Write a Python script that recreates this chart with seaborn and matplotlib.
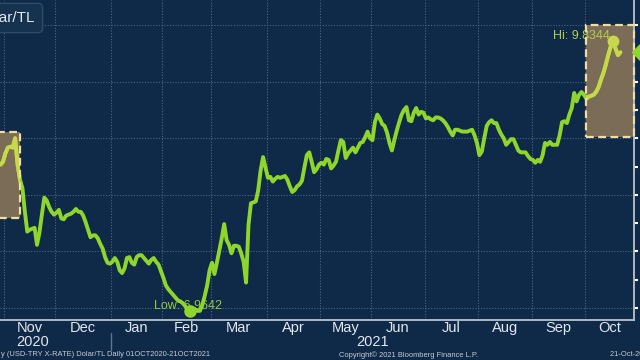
import numpy as np
import pandas as pd
import matplotlib
matplotlib.use("Agg")
import matplotlib.pyplot as plt
import seaborn as sns
from matplotlib.patches import Rectangle

# ---------------- data ----------------
series_start = "2020-10-01"      # first trading day of the series
last_date = "2021-10-21"         # last trading day of the series
# daily closes (trading days) from 2020-10-29 to 2021-10-21
values = [
    8.52, 8.55, 8.64, 8.70, 8.71, 8.70, 8.80, 8.52, 8.36, 8.27,
    8.02, 7.81, 7.83, 7.84, 7.85, 7.67, 7.80, 7.99, 8.17, 8.14,
    8.07, 8.02, 7.99, 8.01, 8.04, 7.95, 7.94, 7.98, 7.99, 8.00,
    8.02, 8.05, 8.02, 8.02, 7.98, 7.91, 7.83, 7.75, 7.77, 7.77,
    7.74, 7.68, 7.63, 7.54, 7.48, 7.47, 7.49, 7.53, 7.49, 7.40,
    7.37, 7.42, 7.53, 7.54, 7.48, 7.46, 7.54, 7.56, 7.56, 7.53,
    7.50, 7.47, 7.51, 7.53, 7.49, 7.46, 7.39, 7.32, 7.24, 7.20,
    7.17, 7.14, 7.11, 7.08, 7.07, 7.05, 7.02, 6.98, 6.9642, 7.00,
    6.98, 6.97, 6.97, 7.03, 7.13, 7.24, 7.40, 7.48, 7.36, 7.48,
    7.61, 7.74, 7.89, 7.72, 7.67, 7.58, 7.66, 7.66, 7.65, 7.58,
    7.49, 7.27, 7.88, 8.11, 8.12, 8.13, 8.25, 8.46, 8.60, 8.49,
    8.38, 8.39, 8.34, 8.37, 8.39, 8.38, 8.39, 8.40, 8.36, 8.29,
    8.23, 8.25, 8.29, 8.31, 8.35, 8.49, 8.62, 8.65, 8.55, 8.44,
    8.47, 8.52, 8.54, 8.52, 8.58, 8.57, 8.48, 8.51, 8.55, 8.67,
    8.78, 8.76, 8.59, 8.64, 8.67, 8.70, 8.65, 8.70, 8.75, 8.76,
    8.81, 8.87, 8.80, 8.78, 8.97, 9.05, 9.01, 8.95, 8.93, 8.86,
    8.75, 8.67, 8.78, 8.88, 8.97, 9.05, 9.10, 9.13, 8.99, 8.98,
    9.07, 9.12, 9.05, 9.08, 9.07, 9.01, 9.02, 9.00, 8.99, 9.02,
    9.02, 9.01, 8.99, 8.96, 8.92, 8.87, 8.83, 8.89, 8.89, 8.88,
    8.87, 8.87, 8.87, 8.88, 8.89, 8.83, 8.75, 8.62, 8.66, 8.80,
    8.93, 8.97, 8.99, 8.96, 8.96, 8.89, 8.84, 8.80, 8.73, 8.76,
    8.79, 8.79, 8.73, 8.67, 8.65, 8.65, 8.65, 8.61, 8.58, 8.57,
    8.54, 8.57, 8.55, 8.62, 8.75, 8.73, 8.76, 8.73, 8.73, 8.73,
    8.83, 8.97, 8.98, 8.96, 9.05, 9.12, 9.28, 9.19, 9.26, 9.29,
    9.26, 9.22, 9.24, 9.25, 9.26, 9.29, 9.34, 9.42, 9.49, 9.58,
    9.68, 9.77, 9.8344, 9.75, 9.68, 9.71,
]
month_labels = ["Nov", "Dec", "Jan", "Feb", "Mar", "Apr", "May", "Jun",
                "Jul", "Aug", "Sep", "Oct"]
month_starts = ["2020-11-01", "2020-12-01", "2021-01-01", "2021-02-01",
                "2021-03-01", "2021-04-01", "2021-05-01", "2021-06-01",
                "2021-07-01", "2021-08-01", "2021-09-01", "2021-10-01"]
year_labels = ["2020", "2021"]
# highlighted ranges: (start date, end date, low, high)
box_start = ["2020-10-01", "2021-10-01"]
box_end = ["2020-11-10", "2021-10-29"]
box_low = [7.954, 8.813]
box_high = [8.866, 10.0]
y_grid = [7.0, 7.6, 8.2, 8.8, 9.4, 10.0]
y_minor = [7.3, 7.9, 8.5, 9.1, 9.7]
view_start, view_end = "2020-10-29", "2021-10-28"
title = "Dolar/TL"
footer_left = "y (USD-TRY X-RATE) Dolar/TL"
footer_mid = "Daily 01OCT2020-21OCT2021"
footer_copy = "Copyright\u00a9 2021 Bloomberg Finance L.P."
footer_right = "21-Oct-2021 18:30:12"

# ---------------- styling ----------------
BG = "#0f2a48"
GRID = "#4a6684"
GREEN = "#8fd62c"
YELLOW = "#c9d84a"
BOXFILL = "#7a6c56"
CREAM = "#f2dca0"
AXC = "#b9c3cb"
TXT = "#e2e8ef"

sns.set_theme(style="dark")
plt.rcParams["font.family"] = ["Liberation Sans", "DejaVu Sans"]


def bpos(d):
    return np.busday_count(series_start, np.datetime64(d, "D"))


dates = pd.bdate_range(end=last_date, periods=len(values))
pos = np.busday_count(series_start, dates.values.astype("datetime64[D]"))
df = pd.DataFrame({"pos": pos, "value": values})

fig = plt.figure(figsize=(6.4, 3.6), dpi=100, facecolor=BG)
ax = fig.add_axes([0, 40 / 360, 634 / 640, 320 / 360])
ax.set_facecolor(BG)

x0 = bpos(view_start) - 0.23
x1 = bpos(view_end) + 0.6
ax.set_xlim(x0, x1)
ax.set_ylim(6.873, 10.265)

# boxes (fill)
clips = []
for s, e, lo, hi in zip(box_start, box_end, box_low, box_high):
    xs = bpos(s)
    xe = min(bpos(e), x1)
    r = Rectangle((xs, lo), xe - xs, hi - lo, facecolor=BOXFILL,
                  edgecolor="none", zorder=1.5)
    ax.add_patch(r)
    clips.append(r)

sns.lineplot(data=df, x="pos", y="value", ax=ax, color=GREEN, lw=2.8,
             zorder=3, sort=False)

for r in clips:
    sns.lineplot(data=df, x="pos", y="value", ax=ax, color=YELLOW, lw=2.8,
                 zorder=3.5, sort=False)
    ax.lines[-1].set_clip_path(r)

for s, e, lo, hi in zip(box_start, box_end, box_low, box_high):
    xs = bpos(s)
    xe = min(bpos(e), x1)
    ax.add_patch(Rectangle((xs, lo), xe - xs, hi - lo, fill=False,
                           edgecolor=CREAM, lw=1.6, ls=(0, (3.5, 2)),
                           zorder=4, clip_on=False))

# low / high markers
vals = np.array(values)
il, ih = int(np.argmin(vals)), int(np.argmax(vals))
ax.plot([pos[il]], [vals[il]], "o", ms=8, color=GREEN, zorder=6)
ax.plot([pos[ih]], [vals[ih]], "o", ms=7.5, color=YELLOW, zorder=6)
ax.annotate(f"Low: {vals[il]:.4f}", (pos[il], vals[il]), xytext=(-36, 5),
            textcoords="offset pixels", ha="left", va="center",
            fontsize=9, color="#96c846", zorder=2.5)
ax.annotate(f"Hi: {vals[ih]:.4f}", (pos[ih], vals[ih]), xytext=(-60, 5),
            textcoords="offset pixels", ha="left", va="center",
            fontsize=9, color="#b4cc4c", zorder=2.5)
# last price marker on the right axis
ax.plot([x1 + 2.5], [vals[-1]], "D", ms=8, color=GREEN, zorder=7,
        clip_on=False)

# axes, ticks and grid
mt = [bpos(d) - 0.5 for d in month_starts]
ax.set_xticks(mt)
ax.set_xticklabels([])
ax.yaxis.tick_right()
ax.set_yticks(y_grid)
ax.set_yticks(y_minor, minor=True)
ax.set_xlabel("")
ax.set_ylabel("")
ax.tick_params(axis="x", direction="in", length=3, width=1, color=AXC,
               labelbottom=False)
ax.tick_params(axis="y", which="both", direction="out", length=3, width=1.5,
               color="white", labelright=False, labelleft=False)
ax.grid(True, which="major", color=GRID, ls=(0, (1, 1.5)), lw=0.8)
ax.set_axisbelow(True)
for side in ["top", "left"]:
    ax.spines[side].set_visible(False)
for side in ["right", "bottom"]:
    ax.spines[side].set_visible(True)
    ax.spines[side].set_color(AXC)
    ax.spines[side].set_linewidth(1.3)

tr = ax.get_xaxis_transform()
edges = mt + [x1]
for lab, a, b in zip(month_labels, edges[:-1], edges[1:]):
    ax.text((a + b) / 2, -8 / 320, lab, transform=tr, ha="center",
            va="center", fontsize=10.5, color=TXT, clip_on=False)
ax.text((edges[0] + edges[1]) / 2 + 1, -22 / 320, year_labels[0],
        transform=tr, ha="center", va="center", fontsize=10.5, color=TXT,
        clip_on=False)
ax.text((edges[2] + x1) / 2, -22 / 320, year_labels[1], transform=tr,
        ha="center", va="center", fontsize=10.5, color=TXT, clip_on=False)
ax.plot([edges[2], edges[2]], [-13 / 320, -30 / 320], transform=tr,
        color="#5d7592", lw=1, clip_on=False)

# footer
fy = 1 - 355 / 360
fig.text(1 / 640, fy, footer_left, fontsize=5.4, color="#c4ccd4",
         ha="left", va="center")
fig.text(107 / 640, fy, footer_mid, fontsize=5.4, color="#c4ccd4",
         ha="left", va="center")
fig.text(339 / 640, fy, footer_copy, fontsize=5.4, color="#c4ccd4",
         ha="left", va="center")
fig.text(610 / 640, fy, footer_right, fontsize=5.4, color="#c4ccd4",
         ha="left", va="center")

# title box
fig.text(35 / 640, 1 - 18 / 360, title, fontsize=11, color=TXT,
         ha="right", va="center",
         bbox=dict(boxstyle="round,pad=0.5,rounding_size=0.3",
                   fc="#15334f", ec="#2e4b6a", lw=1))

fig.savefig("out.png", dpi=100, facecolor=BG)
